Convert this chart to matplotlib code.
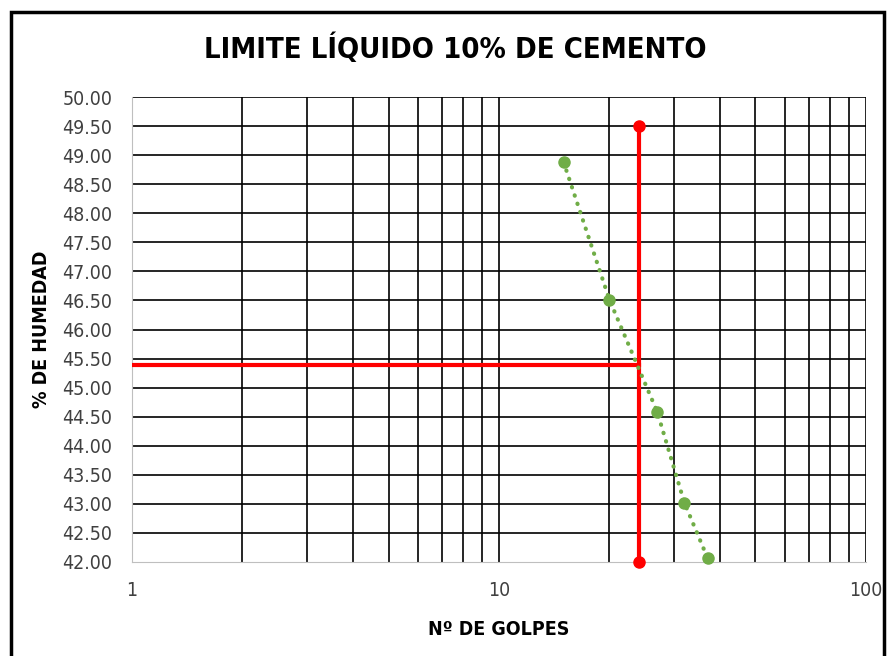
import matplotlib
matplotlib.use("Agg")
import matplotlib.pyplot as plt
from matplotlib import font_manager
from matplotlib.patches import Rectangle

# data
golpes = [15, 20, 27, 32, 37]
humedad = [48.88, 46.51, 44.58, 43.02, 42.07]

# liquid limit lines
ll_golpes = 24
ll_humedad = 45.39
ll_top = 49.5

y_ticks = [42.0 + 0.5 * i for i in range(17)]
x_ticks = [1, 10, 100]
x_grid = [v * d for d in [1, 10] for v in range(2, 11)]

# pick a narrow font if there is one
names = set(f.name for f in font_manager.fontManager.ttflist)
if "Liberation Sans Narrow" in names:
    fam = "Liberation Sans Narrow"
    stretch = "normal"
else:
    fam = "DejaVu Sans"
    stretch = "condensed"

plt.rcParams["font.family"] = [fam, "DejaVu Sans"]

fig = plt.figure(figsize=(8.9, 6.56), dpi=100)
ax = fig.add_axes([0.1483, 0.1433, 0.9730 - 0.1483, 0.8521 - 0.1433])

# outer frame
fig.patches.append(Rectangle((0.012, -0.01), 0.981, 0.992, transform=fig.transFigure,
                             fill=False, edgecolor="black", linewidth=2.5))

ax.set_xscale("log")
ax.set_xlim(1, 100)
ax.set_ylim(42, 50)

ax.set_yticks(y_ticks)
ax.set_yticklabels([f"{v:.2f}" for v in y_ticks])
ax.set_xticks(x_ticks)
ax.set_xticklabels([str(v) for v in x_ticks])
ax.set_xticks([], minor=True)

# grid lines (the lines on the axis edges stay grey)
for v in y_ticks[1:]:
    ax.axhline(v, color="black", linewidth=1.2, zorder=1)
for v in x_grid:
    ax.axvline(v, color="black", linewidth=1.2, zorder=1)

ax.tick_params(which="both", length=0)
ax.tick_params(axis="y", pad=14, labelsize=14, labelcolor="#404040")
ax.tick_params(axis="x", pad=14, labelsize=14, labelcolor="#404040")
for lab in ax.get_xticklabels() + ax.get_yticklabels():
    lab.set_fontstretch(stretch)

for s in ["top", "right"]:
    ax.spines[s].set_visible(False)
ax.spines["left"].set_color("#bfbfbf")
ax.spines["bottom"].set_color("#bfbfbf")

# red lines
ax.plot([1, ll_golpes], [ll_humedad, ll_humedad], color="red", linewidth=3, zorder=3)
ax.plot([ll_golpes, ll_golpes], [42, ll_top], color="red", linewidth=3,
        marker="o", markersize=8, zorder=3, clip_on=False)

# green points
ax.plot(golpes, humedad, color="#70ad47", linestyle=(0, (0.1, 2.0)), linewidth=3,
        dash_capstyle="round", marker="o", markersize=8, zorder=4, clip_on=False)

fig.text(0.511, 0.926, "LIMITE LÍQUIDO 10% DE CEMENTO", ha="center", va="center",
         fontsize=21, fontweight="bold", fontstretch=stretch)
ax.set_xlabel("Nº DE GOLPES", fontsize=14, fontweight="bold", fontstretch=stretch,
              labelpad=14)
ax.set_ylabel("% DE HUMEDAD", fontsize=14, fontweight="bold", fontstretch=stretch,
              labelpad=8)

fig.savefig("out.png", dpi=100)
